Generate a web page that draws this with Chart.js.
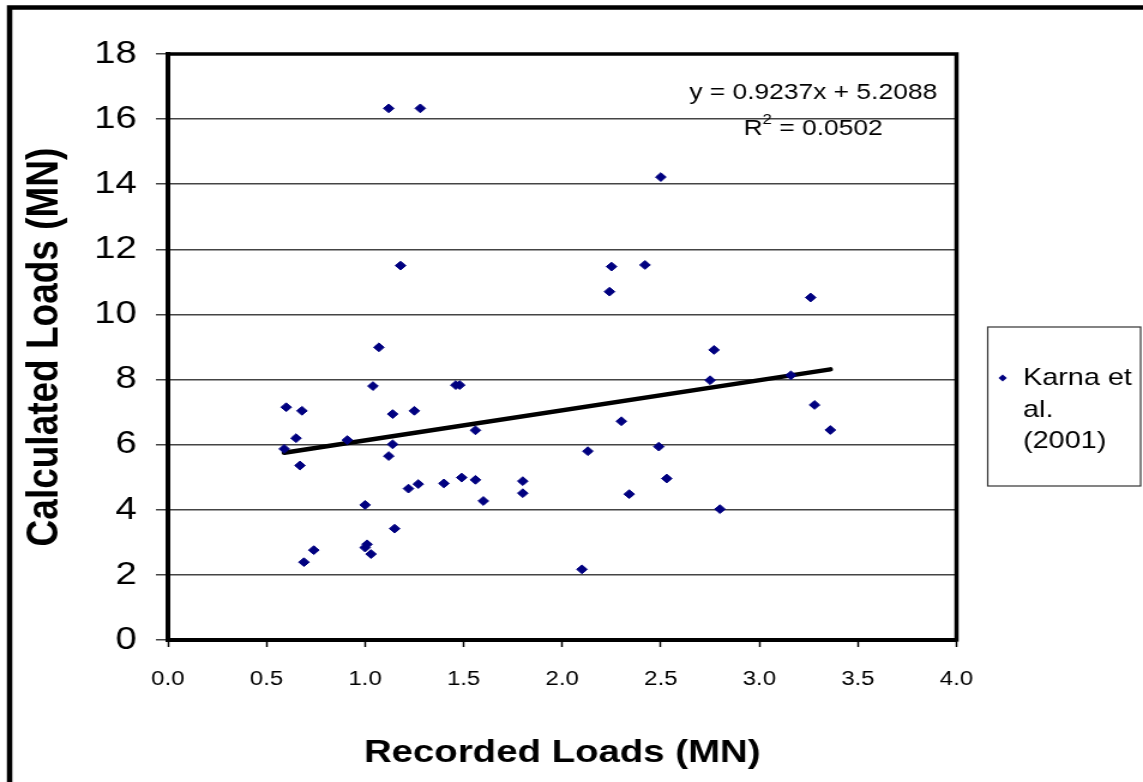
<!doctype html>
<html lang="en">
    <head>
        <meta charset="UTF-8" />
        <title>Calculated vs Recorded Loads</title>
        <style>
            html,
            body {
                margin: 0;
                padding: 0;
                background: #fff;
                overflow: hidden;
            }
            /* the original picture is stretched sideways, so we draw narrow and scale */
            #wrap {
                width: 953px;
                height: 782px;
                transform: scaleX(1.19937);
                transform-origin: 0 0;
            }
        </style>
    </head>

    <body>
        <div id="wrap">
            <canvas id="loadsChart" width="953" height="782"></canvas>
        </div>

        <script src="https://cdn.jsdelivr.net/npm/chart.js@4.4.1/dist/chart.umd.min.js"></script>

        <script>
            // Karna et al. (2001) - recorded vs calculated loads (MN)
            const recordedLoads = [
                1.12, 1.28, 1.18, 1.07, 2.5, 2.25, 2.42, 2.24, 3.26, 2.77,
                1.04, 1.46, 1.48, 0.6, 0.68, 1.14, 1.25, 1.56, 0.65, 0.91,
                0.59, 1.14, 1.12, 0.67, 1.49, 1.56, 1.4, 1.27, 1.22, 1.8,
                1.8, 1.6, 1.0, 1.15, 1.01, 1.0, 1.03, 0.74, 0.69, 2.75,
                3.16, 3.28, 3.36, 2.3, 2.13, 2.49, 2.53, 2.34, 2.8, 2.1,
            ];
            const calculatedLoads = [
                16.33, 16.33, 11.5, 8.99, 14.22, 11.47, 11.52, 10.7, 10.52, 8.91,
                7.8, 7.83, 7.83, 7.15, 7.04, 6.94, 7.04, 6.44, 6.2, 6.14,
                5.87, 6.01, 5.65, 5.36, 4.99, 4.92, 4.81, 4.79, 4.65, 4.88,
                4.51, 4.27, 4.15, 3.42, 2.94, 2.84, 2.64, 2.76, 2.39, 7.98,
                8.13, 7.22, 6.45, 6.72, 5.8, 5.94, 4.96, 4.48, 4.02, 2.17,
            ];
            const seriesName = ["Karna et", "al.", "(2001)"];

            // linear trendline as printed on the chart
            const trendSlope = 0.9237;
            const trendIntercept = 5.2088;
            const trendR2 = 0.0502;

            const xTitle = "Recorded Loads (MN)";
            const yTitle = "Calculated Loads (MN)";

            const FONT = "'Liberation Sans', Arial, sans-serif";

            const points = recordedLoads.map((x, i) => ({
                x: x,
                y: calculatedLoads[i],
            }));

            const xMin = Math.min(...recordedLoads);
            const xMax = Math.max(...recordedLoads);
            const trendPoints = [
                { x: xMin, y: trendSlope * xMin + trendIntercept },
                { x: xMax, y: trendSlope * xMax + trendIntercept },
            ];

            // titles, equation, legend box and frames
            const decorations = {
                id: "decorations",
                afterDraw(chart) {
                    const ctx = chart.ctx;
                    const area = chart.chartArea;
                    ctx.save();

                    // plot frame (top and right sides too)
                    ctx.strokeStyle = "#000";
                    ctx.lineWidth = 3.5;
                    ctx.strokeRect(
                        area.left,
                        area.top,
                        area.right - area.left,
                        area.bottom - area.top
                    );

                    // outer frame, runs off the right and bottom edges
                    ctx.lineWidth = 4.5;
                    ctx.strokeRect(8, 7.5, 1200, 1200);

                    ctx.fillStyle = "#000";

                    // y title
                    ctx.save();
                    ctx.translate(37.5, (area.top + area.bottom) / 2);
                    ctx.rotate(-Math.PI / 2);
                    ctx.font = "bold 37px " + FONT;
                    ctx.textAlign = "center";
                    ctx.textBaseline = "middle";
                    ctx.fillText(yTitle, 0, 0);
                    ctx.restore();

                    // x title
                    ctx.font = "bold 32px " + FONT;
                    ctx.textAlign = "center";
                    ctx.textBaseline = "alphabetic";
                    ctx.fillText(xTitle, (area.left + area.right) / 2, 762);

                    // trendline equation
                    const eqX = 678;
                    ctx.font = "22px " + FONT;
                    ctx.fillText(
                        "y = " + trendSlope.toFixed(4) + "x + " + trendIntercept.toFixed(4),
                        eqX,
                        99
                    );
                    const rest = " = " + trendR2.toFixed(4);
                    const wR = ctx.measureText("R").width;
                    const wRest = ctx.measureText(rest).width;
                    ctx.font = "14px " + FONT;
                    const wSup = ctx.measureText("2").width;
                    let x0 = eqX - (wR + wSup + wRest) / 2;
                    ctx.textAlign = "left";
                    ctx.font = "22px " + FONT;
                    ctx.fillText("R", x0, 135);
                    ctx.font = "14px " + FONT;
                    ctx.fillText("2", x0 + wR, 124);
                    ctx.font = "22px " + FONT;
                    ctx.fillText(rest, x0 + wR + wSup, 135);

                    // legend box
                    ctx.strokeStyle = "#333";
                    ctx.lineWidth = 1.2;
                    ctx.strokeRect(823.5, 327, 127.5, 159);

                    ctx.fillStyle = "#000080";
                    ctx.beginPath();
                    ctx.moveTo(836, 374.5);
                    ctx.lineTo(839.5, 378);
                    ctx.lineTo(836, 381.5);
                    ctx.lineTo(832.5, 378);
                    ctx.closePath();
                    ctx.fill();

                    ctx.fillStyle = "#000";
                    ctx.font = "24px " + FONT;
                    seriesName.forEach((line, i) => {
                        ctx.fillText(line, 853, 385 + i * 31.5);
                    });

                    ctx.restore();
                },
            };

            const chart = new Chart(document.getElementById("loadsChart"), {
                type: "scatter",
                data: {
                    datasets: [
                        {
                            label: seriesName.join(" "),
                            data: points,
                            pointStyle: "rectRot",
                            pointRadius: 4.4,
                            pointHoverRadius: 4.4,
                            backgroundColor: "#000080",
                            borderColor: "#000080",
                            borderWidth: 1,
                        },
                        {
                            type: "line",
                            label: "Linear trend",
                            data: trendPoints,
                            borderColor: "#000",
                            borderWidth: 4.5,
                            borderCapStyle: "round",
                            pointRadius: 0,
                            fill: false,
                        },
                    ],
                },
                options: {
                    responsive: false,
                    animation: false,
                    devicePixelRatio: 1,
                    layout: {
                        padding: { top: 54, right: 155.5, left: 0, bottom: 0 },
                    },
                    plugins: {
                        legend: { display: false },
                        tooltip: { enabled: false },
                    },
                    scales: {
                        x: {
                            type: "linear",
                            min: 0,
                            max: 4,
                            afterFit: (scale) => {
                                scale.height = 142;
                            },
                            ticks: {
                                stepSize: 0.5,
                                color: "#000",
                                padding: 20,
                                font: { family: FONT, size: 20 },
                                callback: (v) => Number(v).toFixed(1),
                            },
                            grid: {
                                drawOnChartArea: false,
                                drawTicks: true,
                                tickLength: 7,
                                tickColor: "#000",
                                tickWidth: 1.5,
                            },
                            border: { display: true, color: "#000", width: 4 },
                        },
                        y: {
                            min: 0,
                            max: 18,
                            afterFit: (scale) => {
                                scale.width = 140;
                            },
                            ticks: {
                                stepSize: 2,
                                color: "#000",
                                padding: 16,
                                font: { family: FONT, size: 32 },
                            },
                            grid: {
                                color: "#444",
                                lineWidth: 1.5,
                                drawTicks: true,
                                tickLength: 10,
                                tickColor: "#444",
                            },
                            border: { display: true, color: "#000", width: 4 },
                        },
                    },
                },
                plugins: [decorations],
            });
        </script>
    </body>
</html>
